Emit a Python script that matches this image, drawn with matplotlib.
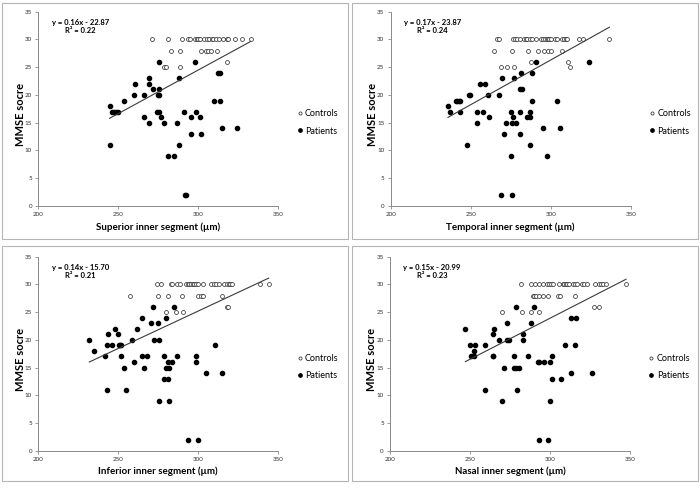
import numpy as np
import matplotlib.pyplot as plt
from matplotlib.patches import Rectangle

plt.rcParams['font.family'] = ['Lato', 'DejaVu Sans']

# superior
sup_ctrl_x = [270.8, 280.8, 289.6, 293.8, 294.8, 297.9, 299.0, 300.0, 301.0, 303.5, 305.2, 306.9, 308.3,
              309.4, 311.0, 312.7, 315.6, 317.7, 318.8, 322.9, 327.0, 332.7,
              282.7, 288.8, 301.7, 304.8, 306.3, 307.7, 311.9,
              278.5, 279.6, 288.8, 317.9]
sup_ctrl_y = [30]*22 + [28]*7 + [25]*3 + [26]
sup_pat_x = [244.6, 245.8, 247.3, 248.5, 249.6, 244.6, 253.8, 259.8, 260.4, 266.0, 265.8, 269.0, 269.0, 269.0,
             271.9, 275.0, 275.6, 275.6, 274.4, 275.4, 275.6, 276.7, 278.5, 280.8, 284.6, 286.5, 287.7, 287.7,
             290.8, 291.9, 292.5, 295.4, 295.4, 297.7, 298.5, 300.8, 301.7, 309.6, 312.3, 313.3, 313.8, 314.8, 324.0]
sup_pat_y = [18, 17, 17, 17, 17, 11, 19, 20, 22, 20, 16, 22, 23, 15,
             21, 20, 20, 21, 17, 17, 26, 16, 15, 9, 9, 15, 23, 11,
             17, 2, 2, 16, 13, 26, 17, 16, 13, 19, 24, 24, 19, 14, 14]

# temporal
tem_ctrl_x = [266.5, 267.5, 276.7, 277.9, 279.2, 280.8, 283.3, 284.4, 285.4, 287.1, 288.5, 290.6, 293.8, 295.4,
              296.5, 297.5, 298.3, 299.2, 300.2, 302.7, 303.8, 306.9, 308.3, 309.6, 310.4, 317.9, 320.0, 336.7,
              264.6, 275.6, 286.0, 292.3, 296.0, 298.5, 300.2, 306.9,
              269.0, 272.7, 276.9, 312.1, 287.7, 310.6]
tem_ctrl_y = [30]*28 + [28]*8 + [25]*4 + [26]*2
tem_pat_x = [235.8, 237.1, 243.1, 253.8, 257.7, 275.0, 287.1, 280.8, 240.6, 241.7, 242.5, 243.3, 288.0, 304.0,
             248.8, 249.8, 260.6, 267.9, 255.8, 258.8, 253.8, 272.0, 275.6, 278.1, 261.7, 276.7, 285.2, 286.9,
             247.7, 286.9, 269.8, 277.1, 270.8, 281.0, 281.5, 288.0, 281.0, 281.9, 290.8, 324.2, 295.0, 305.8,
             275.0, 297.9, 269.0, 275.8]
tem_pat_y = [18, 17, 17, 17, 17, 17, 17, 17, 19, 19, 19, 19, 19, 19,
             20, 20, 20, 20, 22, 22, 15, 15, 15, 15, 16, 16, 16, 16,
             11, 11, 23, 23, 13, 13, 24, 24, 21, 21, 26, 26, 14, 14,
             9, 9, 2, 2]

# inferior
inf_ctrl_x = [274.4, 276.7, 282.7, 283.5, 286.7, 288.8, 292.1, 293.3, 294.2, 295.2, 296.5, 297.5, 298.5, 299.8,
              302.7, 307.7, 309.8, 311.0, 312.9, 316.0, 317.7, 319.0, 319.8, 320.8, 338.5, 344.0,
              257.3, 274.8, 280.8, 289.6, 299.6, 301.7, 302.7, 314.8,
              279.6, 285.8, 290.6, 317.9, 318.8]
inf_ctrl_y = [30]*26 + [28]*8 + [25]*3 + [26]*2
inf_pat_x = [231.9, 258.5, 272.5, 275.6, 234.6, 241.7, 251.5, 264.6, 267.7, 278.5, 286.5, 298.5,
             242.7, 245.8, 250.4, 251.0, 251.9, 310.6, 243.5, 249.6, 247.7, 261.5, 242.7, 254.8,
             253.8, 265.8, 279.6, 281.7, 259.6, 280.8, 283.5, 298.5, 264.6, 279.6, 270.6, 274.8,
             271.9, 284.6, 278.5, 280.8, 275.6, 281.7, 304.6, 314.8, 293.5, 299.8]
inf_pat_y = [20, 20, 20, 20, 18, 17, 17, 17, 17, 17, 17, 17,
             19, 19, 19, 19, 19, 19, 21, 21, 22, 22, 11, 11,
             15, 15, 15, 15, 16, 16, 16, 16, 24, 24, 23, 23,
             26, 26, 13, 13, 9, 9, 14, 14, 2, 2]

# nasal
nas_ctrl_x = [281.7, 288.1, 290.8, 292.9, 295.4, 298.3, 299.6, 300.6, 301.7, 305.4, 307.9, 308.8, 309.8, 310.8,
              312.1, 314.6, 315.8, 317.1, 319.8, 321.0, 322.9, 327.9, 330.8, 331.9, 333.3, 335.0, 347.5,
              289.4, 290.2, 291.0, 293.1, 295.4, 298.5, 305.0, 306.3, 315.4,
              270.2, 282.3, 288.1, 293.1, 327.5, 330.6]
nas_ctrl_y = [30]*27 + [28]*9 + [25]*4 + [26]*2
nas_pat_x = [247.1, 265.2, 250.2, 253.3, 259.4, 309.4, 315.6, 250.4, 252.7, 264.2, 264.4, 277.3, 286.5, 301.5,
             252.5, 264.2, 283.3, 268.3, 272.9, 274.6, 283.3, 273.1, 288.3, 278.5, 290.2,
             271.3, 277.3, 278.5, 280.4, 259.2, 279.2, 270.2, 300.0, 292.5, 293.3, 296.3, 300.0,
             301.5, 307.1, 313.1, 316.3, 313.1, 326.3, 293.1, 298.5]
nas_pat_y = [22, 22, 19, 19, 19, 19, 19, 17, 17, 17, 17, 17, 17, 17,
             18, 21, 21, 20, 20, 20, 20, 23, 23, 26, 26,
             15, 15, 15, 15, 11, 11, 9, 9, 16, 16, 16, 16,
             13, 13, 24, 24, 14, 14, 2, 2]

xlabels = ["Superior inner segment (µm)", "Temporal inner segment (µm)",
           "Inferior inner segment (µm)", "Nasal inner segment (µm)"]
equations = ["y = 0.16x - 22.87", "y = 0.17x - 23.87", "y = 0.14x - 15.70", "y = 0.15x - 20.99"]
r2_labels = ["R² = 0.22", "R² = 0.24", "R² = 0.21", "R² = 0.23"]
# trend lines as drawn in the picture
slopes = [0.157, 0.161, 0.135, 0.148]
intercepts = [-22.6, -22.0, -15.3, -20.5]

panels = [(sup_ctrl_x, sup_ctrl_y, sup_pat_x, sup_pat_y),
          (tem_ctrl_x, tem_ctrl_y, tem_pat_x, tem_pat_y),
          (inf_ctrl_x, inf_ctrl_y, inf_pat_x, inf_pat_y),
          (nas_ctrl_x, nas_ctrl_y, nas_pat_x, nas_pat_y)]

W, H = 700, 488
fig = plt.figure(figsize=(7, 4.88), dpi=100)

# chart boxes and plot areas, in pixels (left, top, right, bottom)
boxes = [(2, 3, 348, 239), (352, 3, 698, 239), (2, 246, 348, 481), (352, 246, 698, 481)]
areas = [(38.3, 11.7, 278.3, 206), (390.7, 11.7, 630.7, 206),
         (38.3, 256.7, 278.3, 450.7), (390, 256.7, 630, 450.7)]

for i in range(4):
    l, t, r, b = boxes[i]
    fig.patches.append(Rectangle((l/W, 1-b/H), (r-l)/W, (b-t)/H, transform=fig.transFigure,
                                 fill=False, edgecolor='#b5b5b5', lw=0.8))
    l, t, r, b = areas[i]
    ax = fig.add_axes([l/W, 1-b/H, (r-l)/W, (b-t)/H])

    cx, cy, px, py = panels[i]
    ax.plot(cx, cy, 'o', mfc='white', mec='#222222', mew=0.5, ms=2.8, ls='none', label='Controls')
    ax.plot(px, py, 'o', color='black', ms=3.0, ls='none', label='Patients')
    allx = np.array(cx + px)
    xs = np.array([allx.min(), allx.max()])
    ax.plot(xs, slopes[i]*xs + intercepts[i], color='#3a3a3a', lw=0.8)

    ax.set_xlim(200, 350)
    ax.set_ylim(0, 35)
    ax.set_xticks([200, 250, 300, 350])
    ax.set_yticks(range(0, 36, 5))
    for s in ['top', 'right']:
        ax.spines[s].set_visible(False)
    for s in ['left', 'bottom']:
        ax.spines[s].set_color('#8a8a8a')
        ax.spines[s].set_linewidth(0.7)
    ax.tick_params(direction='out', length=2.5, width=0.6, color='#8a8a8a',
                   labelsize=4.5, labelcolor='#333333', pad=2)

    ax.text(0.175, 0.925, equations[i] + "\n" + r2_labels[i], transform=ax.transAxes,
            ha='center', va='center', multialignment='center', fontsize=5.5, fontweight='bold')

    ax.set_ylabel("MMSE socre", fontsize=8, fontweight='bold', va='center')
    ax.yaxis.set_label_coords(-0.076, 0.47)
    ax.set_xlabel(xlabels[i], fontsize=7, fontweight='bold', va='center')
    ax.xaxis.set_label_coords(0.5, -0.108)

    ax.legend(loc='center left', bbox_to_anchor=(1.055, 0.43), frameon=False, fontsize=6.5,
              handletextpad=0.1, labelspacing=0.9, handlelength=1, borderaxespad=0, markerscale=0.8)

fig.savefig("out.png", dpi=100)
